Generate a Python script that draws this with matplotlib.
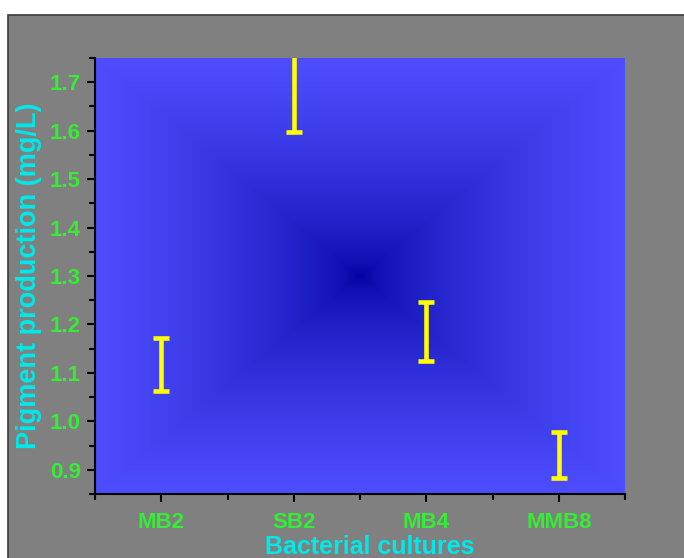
import numpy as np
import matplotlib
matplotlib.use("Agg")
import matplotlib.pyplot as plt
from matplotlib.patches import Rectangle
from matplotlib.ticker import MultipleLocator, FixedLocator, FormatStrFormatter

# Data
cultures = ["MB2", "SB2", "MB4", "MMB8"]
pigment_mean = [1.118, 1.700, 1.186, 0.931]
pigment_err = [0.055, 0.103, 0.061, 0.048]

W, H = 684, 558
fig = plt.figure(figsize=(W / 100, H / 100), dpi=100, facecolor="white")

# grey panel behind the chart
panel = Rectangle((8 / W, -0.01), 1.0, 1 - 15 / H + 0.01, transform=fig.transFigure,
                  facecolor="#808080", edgecolor="#3a3a3a", linewidth=1.2, zorder=-5)
fig.patches.append(panel)

ax = fig.add_axes([95 / W, (H - 494) / H, 530 / W, 436 / H])
ax.set_facecolor("none")

xlim = (-0.5, 3.5)
ylim = (0.85, 1.75)

# rectangular ("pyramid") gradient: dark in the centre, light at the edges
nx, ny = 530, 436
u = np.linspace(-1, 1, nx)
v = np.linspace(-1, 1, ny)
U, V = np.meshgrid(u, v)
t = np.maximum(np.abs(U), np.abs(V))
t = t ** 0.6
edge = np.array([78, 78, 255]) / 255
center = np.array([0, 0, 160]) / 255
img = center[None, None, :] * (1 - t[..., None]) + edge[None, None, :] * t[..., None]
ax.imshow(img, extent=[xlim[0], xlim[1], ylim[0], ylim[1]], aspect="auto",
          origin="lower", zorder=0, interpolation="bilinear")

x = np.arange(len(cultures))
ax.errorbar(x, pigment_mean, yerr=pigment_err, fmt="none", ecolor="#ffff00",
            elinewidth=3.3, capsize=5.6, capthick=3.3, zorder=3)

ax.set_xlim(*xlim)
ax.set_ylim(*ylim)

for s in ["top", "right"]:
    ax.spines[s].set_visible(False)
for s in ["left", "bottom"]:
    ax.spines[s].set_color("black")
    ax.spines[s].set_linewidth(1.5)

ax.set_xticks(x)
ax.set_xticklabels(cultures)
ax.xaxis.set_minor_locator(FixedLocator([-0.5, 0.5, 1.5, 2.5, 3.5]))
ax.yaxis.set_major_locator(MultipleLocator(0.1))
ax.yaxis.set_minor_locator(MultipleLocator(0.05))
ax.yaxis.set_major_formatter(FormatStrFormatter("%.1f"))

ax.tick_params(axis="both", which="major", direction="out", length=6, width=1.5,
               color="black", labelcolor="#33ee33", pad=4)
ax.tick_params(axis="x", which="major", pad=7)
ax.tick_params(axis="both", which="minor", direction="out", length=4, width=1.5,
               color="black")
for lab in ax.get_xticklabels() + ax.get_yticklabels():
    lab.set_fontfamily("Liberation Sans")
    lab.set_fontweight("bold")
    lab.set_fontsize(16)

ax.set_xlabel("Bacterial cultures", family="Liberation Sans", weight="bold",
              size=18, color="#00e8e8")
ax.xaxis.set_label_coords(0.519, -0.093)
ax.set_ylabel("Pigment production (mg/L)", family="Liberation Sans", weight="bold",
              size=19.5, color="#00e8e8", labelpad=6)

fig.savefig("out.png", dpi=100, facecolor="white")
